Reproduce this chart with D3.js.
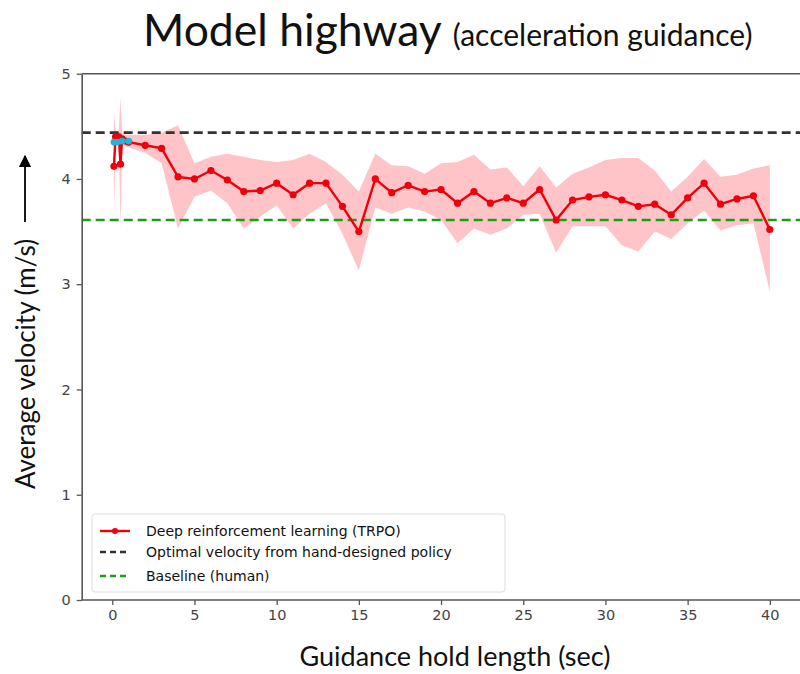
<!DOCTYPE html>
<html>
<head>
<meta charset="utf-8">
<script src="https://cdn.jsdelivr.net/npm/d3@7"></script>
<style>
  body { margin: 0; background: #fff; }
  svg text { fill: #111; }
  .tick text { font-family: "DejaVu Sans", sans-serif; font-size: 14.5px; fill: #444; }
  .tick line { stroke: #555; stroke-width: 1.3; }
  .domain { stroke: #555; stroke-width: 1.6; }
</style>
</head>
<body>
<div id="chart"></div>
<script>
// hold lengths (sec)
const holdLength = [0.1, 0.2, 0.3, 0.4, 0.5, 0.6, 0.8, 1, 2, 3, 4, 5, 6, 7, 8, 9, 10,
  11, 12, 13, 14, 15, 16, 17, 18, 19, 20, 21, 22, 23, 24, 25, 26, 27, 28, 29, 30,
  31, 32, 33, 34, 35, 36, 37, 38, 39, 40];
// mean average velocity (m/s) for TRPO
const trpoMean = [4.12, 4.40, 4.38, 4.40, 4.14, 4.38, 4.36, 4.35, 4.32, 4.29, 4.02, 4.00, 4.08, 3.99, 3.88, 3.89, 3.96,
  3.85, 3.96, 3.96, 3.74, 3.50, 4.00, 3.87, 3.94, 3.88, 3.90, 3.77, 3.88, 3.77, 3.82, 3.77, 3.90, 3.61, 3.80, 3.83, 3.85,
  3.80, 3.74, 3.76, 3.66, 3.82, 3.96, 3.76, 3.81, 3.84, 3.52];
const trpoLow = [3.60, 4.33, 4.33, 4.34, 3.53, 4.32, 4.31, 4.30, 4.25, 4.15, 3.53, 3.83, 3.89, 3.77, 3.53, 3.64, 3.75,
  3.53, 3.67, 3.77, 3.48, 3.13, 3.73, 3.67, 3.73, 3.69, 3.61, 3.39, 3.53, 3.47, 3.53, 3.66, 3.67, 3.30, 3.55, 3.55, 3.55,
  3.37, 3.31, 3.50, 3.43, 3.58, 3.70, 3.51, 3.56, 3.58, 2.93];
const trpoHigh = [4.63, 4.46, 4.44, 4.46, 4.77, 4.44, 4.42, 4.42, 4.42, 4.44, 4.51, 4.15, 4.21, 4.24, 4.21, 4.18, 4.16,
  4.18, 4.24, 4.16, 4.04, 3.88, 4.24, 4.13, 4.12, 4.05, 4.15, 4.16, 4.23, 4.09, 4.11, 3.93, 4.12, 3.92, 4.05, 4.11, 4.18,
  4.20, 4.20, 4.08, 3.88, 4.02, 4.19, 4.02, 4.04, 4.10, 4.13];
// short runs visible under the red curve at small hold lengths
const shortRunX = [0.1, 0.3, 0.6, 1.0];
const shortRunY = [4.35, 4.35, 4.36, 4.36];

const optimalVelocity = 4.44;
const humanBaseline = 3.61;

const xTicks = [0, 5, 10, 15, 20, 25, 30, 35, 40];
const yTicks = [0, 1, 2, 3, 4, 5];

const legendLabels = [
  "Deep reinforcement learning (TRPO)",
  "Optimal velocity from hand-designed policy",
  "Baseline (human)"
];

const width = 800, height = 674;

const svg = d3.select("#chart").append("svg")
    .attr("width", width)
    .attr("height", height);

const x = d3.scaleLinear().domain([-1.86, 42.2]).range([81.7, 806]);
const y = d3.scaleLinear().domain([0, 5]).range([600, 73.7]);

const rows = holdLength.map((h, i) => ({ h: h, m: trpoMean[i], lo: trpoLow[i], hi: trpoHigh[i] }));

// std band
svg.append("path")
    .datum(rows)
    .attr("fill", "#ffc4c8")
    .attr("d", d3.area().x(d => x(d.h)).y0(d => y(d.lo)).y1(d => y(d.hi)));

// reference lines
svg.append("line")
    .attr("x1", x.range()[0]).attr("x2", width)
    .attr("y1", y(optimalVelocity)).attr("y2", y(optimalVelocity))
    .attr("stroke", "#333").attr("stroke-width", 2.6).attr("stroke-dasharray", "9,5");
svg.append("line")
    .attr("x1", x.range()[0]).attr("x2", width)
    .attr("y1", y(humanBaseline)).attr("y2", y(humanBaseline))
    .attr("stroke", "#1a9e1a").attr("stroke-width", 2.6).attr("stroke-dasharray", "9,5");

// TRPO mean line
svg.append("path")
    .datum(rows)
    .attr("fill", "none")
    .attr("stroke", "#f0000a")
    .attr("stroke-width", 2.4)
    .attr("d", d3.line().x(d => x(d.h)).y(d => y(d.m)));

svg.append("g").selectAll("circle")
    .data(rows)
    .enter().append("circle")
    .attr("cx", d => x(d.h))
    .attr("cy", d => y(d.m))
    .attr("r", 3.6)
    .attr("fill", "#f0000a");

// short cyan run
const shortRun = shortRunX.map((v, i) => [v, shortRunY[i]]);
svg.append("path")
    .datum(shortRun)
    .attr("fill", "none")
    .attr("stroke", "#22b5d6")
    .attr("stroke-width", 3)
    .attr("d", d3.line().x(d => x(d[0])).y(d => y(d[1])));
svg.append("g").selectAll("circle")
    .data(shortRun)
    .enter().append("circle")
    .attr("cx", d => x(d[0]))
    .attr("cy", d => y(d[1]))
    .attr("r", 3.4)
    .attr("fill", "#22b5d6");

// axes
const xAxis = svg.append("g")
    .attr("transform", `translate(0,${y(0)})`)
    .call(d3.axisBottom(x).tickValues(xTicks).tickSize(5).tickPadding(5).tickSizeOuter(0));
xAxis.select(".domain").attr("d", `M${x.range()[0]},0H${width}`);

svg.append("g")
    .attr("transform", `translate(${x.range()[0]},0)`)
    .call(d3.axisLeft(y).tickValues(yTicks).tickFormat(d3.format("d")).tickSize(5).tickPadding(6).tickSizeOuter(0));

// top spine
svg.append("line")
    .attr("x1", x.range()[0]).attr("x2", width)
    .attr("y1", y(5)).attr("y2", y(5))
    .attr("stroke", "#555").attr("stroke-width", 1.6);

// legend
const legend = svg.append("g").attr("transform", "translate(92,514)");
legend.append("rect")
    .attr("width", 413).attr("height", 78)
    .attr("rx", 3)
    .attr("fill", "#fff").attr("fill-opacity", 0.85)
    .attr("stroke", "#ddd");

const legendStyles = [
  { color: "#f0000a", dash: null, marker: true },
  { color: "#333", dash: "6,4", marker: false },
  { color: "#1a9e1a", dash: "6,4", marker: false }
];
const legendY = [17, 38, 62];
legendLabels.forEach((label, i) => {
  const st = legendStyles[i];
  legend.append("line")
      .attr("x1", 8).attr("x2", 38)
      .attr("y1", legendY[i]).attr("y2", legendY[i])
      .attr("stroke", st.color).attr("stroke-width", 2.4)
      .attr("stroke-dasharray", st.dash);
  if (st.marker) {
    legend.append("circle").attr("cx", 23).attr("cy", legendY[i]).attr("r", 3).attr("fill", st.color);
  }
  legend.append("text")
      .attr("x", 54).attr("y", legendY[i] + 5)
      .attr("font-family", "DejaVu Sans, sans-serif")
      .attr("font-size", 14)
      .attr("fill", "#222")
      .text(label);
});

// titles
const title = svg.append("text")
    .attr("x", 143).attr("y", 46)
    .attr("font-family", "Lato, sans-serif");
title.append("tspan").attr("font-size", 44.5).text("Model highway");
title.append("tspan").attr("font-size", 30).attr("dx", 11).text("(acceleration guidance)");

svg.append("text")
    .attr("x", 455).attr("y", 666)
    .attr("text-anchor", "middle")
    .attr("font-family", "Lato, sans-serif")
    .attr("font-size", 27)
    .text("Guidance hold length (sec)");

svg.append("text")
    .attr("transform", "translate(35,364) rotate(-90)")
    .attr("text-anchor", "middle")
    .attr("font-family", "Lato, sans-serif")
    .attr("font-size", 26)
    .text("Average velocity (m/s)");

// arrow beside the y label
svg.append("defs").append("marker")
    .attr("id", "arrowhead")
    .attr("viewBox", "0 0 10 10")
    .attr("refX", 9).attr("refY", 5)
    .attr("markerWidth", 7).attr("markerHeight", 7)
    .attr("markerUnits", "strokeWidth")
    .attr("orient", "auto")
    .append("path").attr("d", "M0,0L10,5L0,10z").attr("fill", "#000");
svg.append("line")
    .attr("x1", 25).attr("x2", 25)
    .attr("y1", 222).attr("y2", 156)
    .attr("stroke", "#000").attr("stroke-width", 1.8)
    .attr("marker-end", "url(#arrowhead)");
</script>
</body>
</html>
